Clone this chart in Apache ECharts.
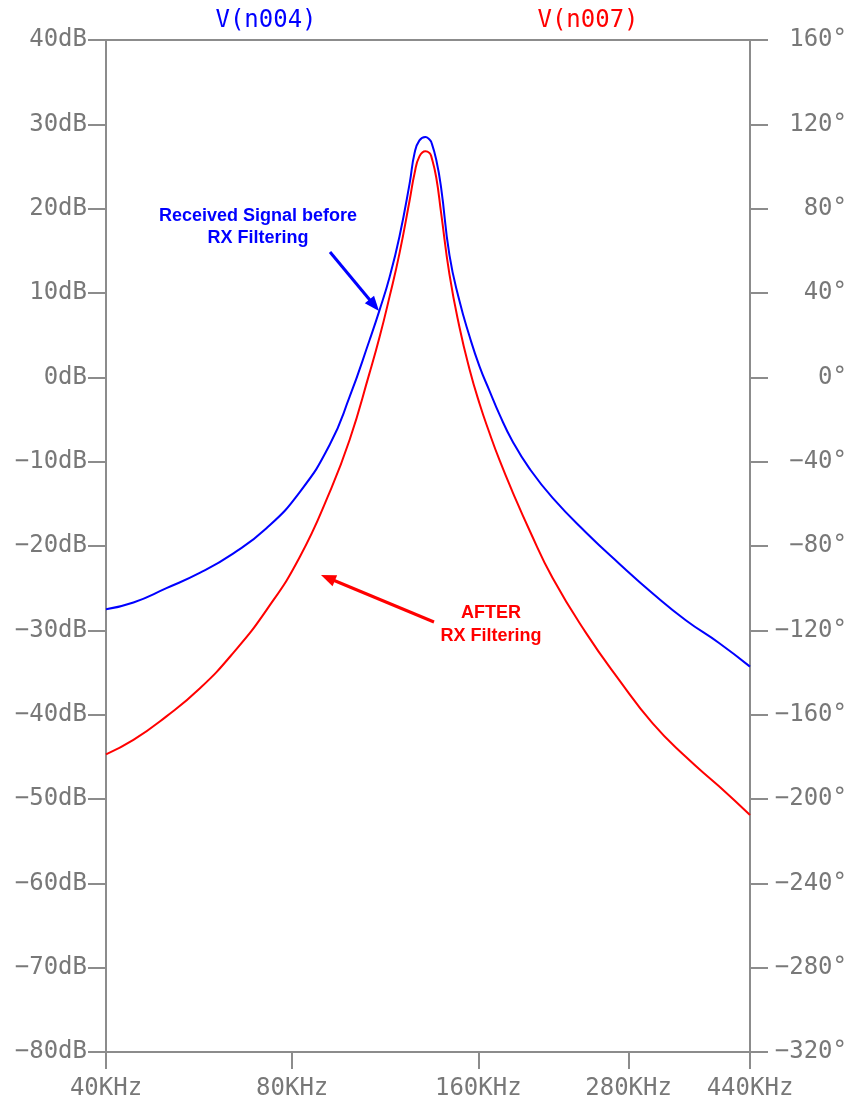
<!DOCTYPE html>
<html lang="en">
<head>
    <meta charset="UTF-8">
    <title>V(n004) / V(n007)</title>
    <script src="https://cdn.jsdelivr.net/npm/echarts@6/dist/echarts.min.js"></script>
    <style>
        html, body { margin: 0; padding: 0; background: #ffffff; }
        #chart { width: 850px; height: 1103px; }
    </style>
</head>
<body>
<div id="chart"></div>
<script>
    // frequency in KHz
    var freqKHz = [40, 44.3, 50.1, 56.7, 64.2, 72.7, 82.3, 92.0, 99.1, 106.7,
        110.8, 115.0, 119.3, 123.9, 126.2, 128.5, 131.4, 133.4, 134.3, 136.8,
        139.3, 143.7, 149.1, 154.8, 160.7, 166.8, 173.1, 181.8, 193.5, 211.0,
        238.9, 270.4, 306.0, 346.4, 392.1, 440];
    // V(n004) magnitude, dB
    var n004 = [-27.5, -26.7, -25.0, -23.2, -20.9, -17.9, -13.6, -8.0, -2.3, 4.4,
        8.0, 11.9, 16.7, 23.0, 26.6, 28.1, 28.5, 28.2, 27.9, 25.8,
        22.5, 14.5, 9.1, 4.9, 1.3, -1.6, -4.4, -7.6, -10.8, -14.3,
        -18.4, -22.1, -25.6, -28.8, -31.5, -34.3];
    // V(n007) magnitude, dB
    var n007 = [-44.7, -43.0, -40.2, -36.9, -32.7, -27.6, -21.3, -13.6, -7.4, 0.5,
        4.8, 9.6, 14.7, 21.0, 24.2, 26.2, 26.8, 26.6, 26.2, 23.7,
        19.5, 12.2, 6.0, 1.0, -3.1, -6.6, -9.8, -13.6, -18.1, -23.8,
        -30.3, -35.9, -41.0, -45.0, -48.5, -51.9];
    var freqTicks = [40, 80, 160, 280, 440];

    var axisGray = '#8c8c8c';
    var labelGray = '#787878';
    var mono = '"DejaVu Sans Mono", monospace';

    function pairs(xs, ys) {
        var out = [];
        for (var i = 0; i < xs.length; i++) {
            out.push([xs[i], ys[i]]);
        }
        return out;
    }

    function minus(v) {
        return String(v).replace('-', '\u2212');
    }

    // annotation arrow: line plus filled head at (x2, y2)
    function arrow(x1, y1, x2, y2, color) {
        var dx = x2 - x1, dy = y2 - y1;
        var len = Math.sqrt(dx * dx + dy * dy);
        var ux = dx / len, uy = dy / len;
        var hl = 15, hw = 6;
        var bx = x2 - ux * hl, by = y2 - uy * hl;
        return [
            {
                type: 'line',
                shape: { x1: x1, y1: y1, x2: bx + ux * 2, y2: by + uy * 2 },
                style: { stroke: color, lineWidth: 3 }
            },
            {
                type: 'polygon',
                shape: { points: [[x2, y2], [bx - uy * hw, by + ux * hw], [bx + uy * hw, by - ux * hw]] },
                style: { fill: color }
            }
        ];
    }

    var noteFont = 'bold 18px "Liberation Sans", Arial, sans-serif';

    var graphics = [
        {
            type: 'text', x: 266, y: 21,
            style: { text: 'V(n004)', fill: '#0000ff', font: '24px ' + mono, textAlign: 'center', textVerticalAlign: 'middle' }
        },
        {
            type: 'text', x: 588, y: 21,
            style: { text: 'V(n007)', fill: '#ff0000', font: '24px ' + mono, textAlign: 'center', textVerticalAlign: 'middle' }
        },
        {
            type: 'text', x: 258, y: 227,
            style: { text: 'Received Signal before\nRX Filtering', fill: '#0000ff', font: noteFont, lineHeight: 22, textAlign: 'center', textVerticalAlign: 'middle' }
        },
        {
            type: 'text', x: 491, y: 625,
            style: { text: 'AFTER\nRX Filtering', fill: '#ff0000', font: noteFont, lineHeight: 23, textAlign: 'center', textVerticalAlign: 'middle' }
        }
    ].concat(arrow(330, 252, 379, 311, '#0000ff'))
     .concat(arrow(434, 622, 321, 575, '#ff0000'));

    var option = {
        animation: false,
        backgroundColor: '#ffffff',
        grid: {
            left: 106, right: 99, top: 40, bottom: 51,
            show: true, borderColor: axisGray, borderWidth: 2
        },
        xAxis: {
            type: 'log',
            logBase: 10,
            min: 40,
            max: 440,
            axisLine: { show: true, onZero: false, lineStyle: { color: axisGray, width: 2 } },
            axisTick: { show: true, inside: false, length: 17, customValues: freqTicks, lineStyle: { color: axisGray, width: 2 } },
            axisLabel: {
                customValues: freqTicks,
                margin: 25,
                color: labelGray,
                fontFamily: mono,
                fontSize: 24,
                formatter: function (v) { return v + 'KHz'; }
            },
            splitLine: { show: false },
            minorTick: { show: false }
        },
        yAxis: [
            {
                type: 'value',
                min: -80,
                max: 40,
                interval: 10,
                position: 'left',
                axisLine: { show: true, lineStyle: { color: axisGray, width: 2 } },
                axisTick: { show: true, length: 18, lineStyle: { color: axisGray, width: 2 } },
                axisLabel: {
                    margin: 19,
                    color: labelGray,
                    fontFamily: mono,
                    fontSize: 24,
                    formatter: function (v) { return minus(v) + 'dB'; }
                },
                splitLine: { show: false }
            },
            {
                type: 'value',
                min: -320,
                max: 160,
                interval: 40,
                position: 'right',
                axisLine: { show: true, lineStyle: { color: axisGray, width: 2 } },
                axisTick: { show: true, length: 18, lineStyle: { color: axisGray, width: 2 } },
                axisLabel: {
                    margin: 97,
                    align: 'right',
                    color: labelGray,
                    fontFamily: mono,
                    fontSize: 24,
                    formatter: function (v) { return minus(v) + '\u00b0'; }
                },
                splitLine: { show: false }
            }
        ],
        series: [
            {
                name: 'V(n004)',
                type: 'line',
                yAxisIndex: 0,
                data: pairs(freqKHz, n004),
                smooth: 0.5,
                showSymbol: false,
                lineStyle: { color: '#0000ff', width: 2 },
                itemStyle: { color: '#0000ff' }
            },
            {
                name: 'V(n007)',
                type: 'line',
                yAxisIndex: 0,
                data: pairs(freqKHz, n007),
                smooth: 0.5,
                showSymbol: false,
                lineStyle: { color: '#ff0000', width: 2 },
                itemStyle: { color: '#ff0000' }
            }
        ],
        graphic: graphics
    };

    var chart = echarts.init(document.getElementById('chart'));
    chart.setOption(option);
</script>
</body>
</html>
